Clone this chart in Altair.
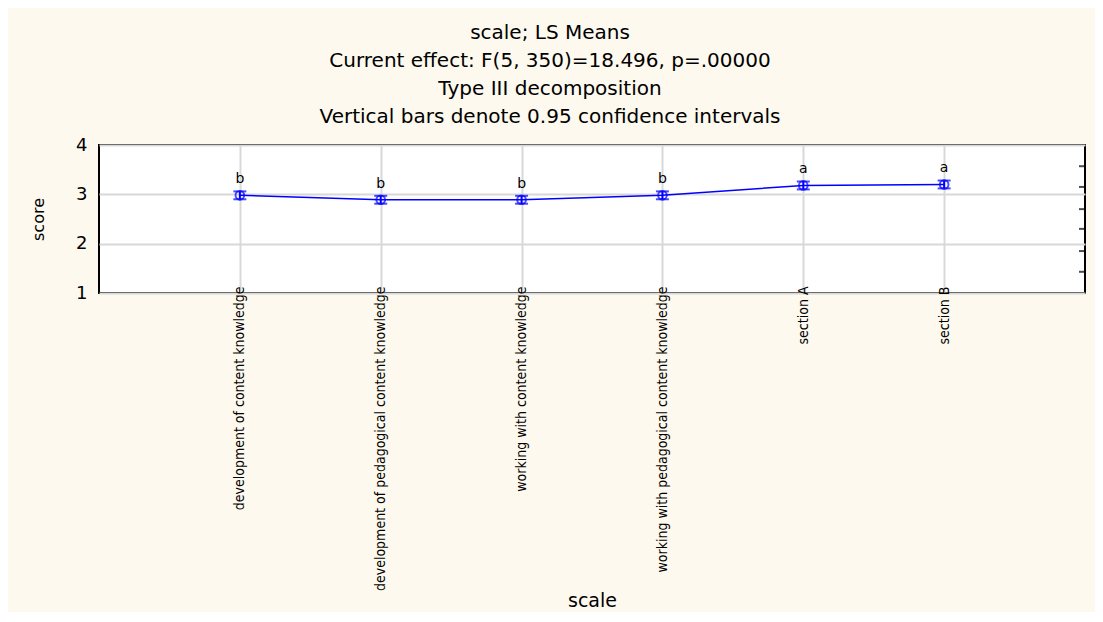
import altair as alt
import pandas as pd

categories = [
    "development of content knowledge",
    "development of pedagogical content knowledge",
    "working with content knowledge",
    "working with pedagogical content knowledge",
    "section A",
    "section B",
]
means = [2.98, 2.89, 2.89, 2.98, 3.18, 3.20]
ci_half = [0.08, 0.08, 0.08, 0.08, 0.08, 0.08]
letters = ["b", "b", "b", "b", "a", "a"]
right_ticks = [3.57, 3.15, 2.70, 2.30, 1.85, 1.43]

df = pd.DataFrame({
    "scale": categories,
    "score": means,
    "lo": [m - c for m, c in zip(means, ci_half)],
    "hi": [m + c for m, c in zip(means, ci_half)],
    "letter": letters,
})
tick_df = pd.DataFrame({"v": right_ticks})

W, H = 986, 148
BLUE = "#0000FF"
FONT = "DejaVu Sans, Liberation Sans, sans-serif"
NARROW = "DejaVu Sans Condensed, Liberation Sans, sans-serif"

x = alt.X("scale:N", sort=categories,
          scale=alt.Scale(type="point", padding=1),
          axis=alt.Axis(title="scale", labelAngle=-90, labelFont=NARROW,
                        labelFontSize=14, labelColor="#000", labelPadding=-7, labelLimit=400,
                        ticks=False, domain=False, grid=True, gridColor="#D8D8D8", gridWidth=2,
                        titleFont=FONT, titleFontSize=19, titleFontWeight="normal",
                        titleColor="#000", titlePadding=0, titleY=307, titleBaseline="middle"))
y = alt.Y("score:Q", scale=alt.Scale(domain=[1, 4], nice=False, zero=False),
          axis=alt.Axis(title="score", values=[1, 2, 3, 4], format="d", ticks=False,
                        domain=False, grid=True, gridColor="#D8D8D8", gridWidth=2,
                        labelFont=FONT, labelFontSize=18, labelColor="#000", labelPadding=12,
                        titleFont=FONT, titleFontSize=16, titleFontWeight="normal",
                        titleColor="#000", titleX=-53))

base = alt.Chart(df)
line = base.mark_line(color=BLUE, strokeWidth=1.5).encode(x=x, y=y)
pts = base.mark_point(shape="circle", color=BLUE, filled=False, size=75, strokeWidth=2).encode(x=x, y=y)
err = base.mark_rule(color=BLUE, strokeWidth=2).encode(x=x, y="lo:Q", y2="hi:Q")
cap_lo = base.mark_tick(color=BLUE, orient="horizontal", size=13, thickness=2).encode(x=x, y="lo:Q")
cap_hi = base.mark_tick(color=BLUE, orient="horizontal", size=13, thickness=2).encode(x=x, y="hi:Q")
txt = base.mark_text(font=FONT, fontSize=14, color="#000", dy=-16).encode(x=x, y=y, text="letter:N")
rt = alt.Chart(tick_df).mark_tick(color="#000", orient="horizontal", size=6, thickness=2).encode(
    x=alt.value(W - 3), y=alt.Y("v:Q", scale=alt.Scale(domain=[1, 4])))

chart = alt.layer(line, err, cap_lo, cap_hi, pts, txt, rt).properties(
    width=W, height=H,
    autosize=alt.AutoSizeParams(type="none"),
    padding={"left": 91, "top": 137, "right": 10, "bottom": 319},
    background="#FDF9EE",
    title=alt.TitleParams(
        text=["scale; LS Means", "Current effect: F(5, 350)=18.496, p=.00000",
              "Type III decomposition", "Vertical bars denote 0.95 confidence intervals"],
        font=FONT, fontSize=20, fontWeight="normal", color="#000", lineHeight=28,
        anchor="middle", dx=-42, offset=9),
).configure_view(stroke="#000", strokeWidth=2, fill="#FFFFFF")

chart.save("out.html", embed_options={"renderer": "svg", "actions": False})
